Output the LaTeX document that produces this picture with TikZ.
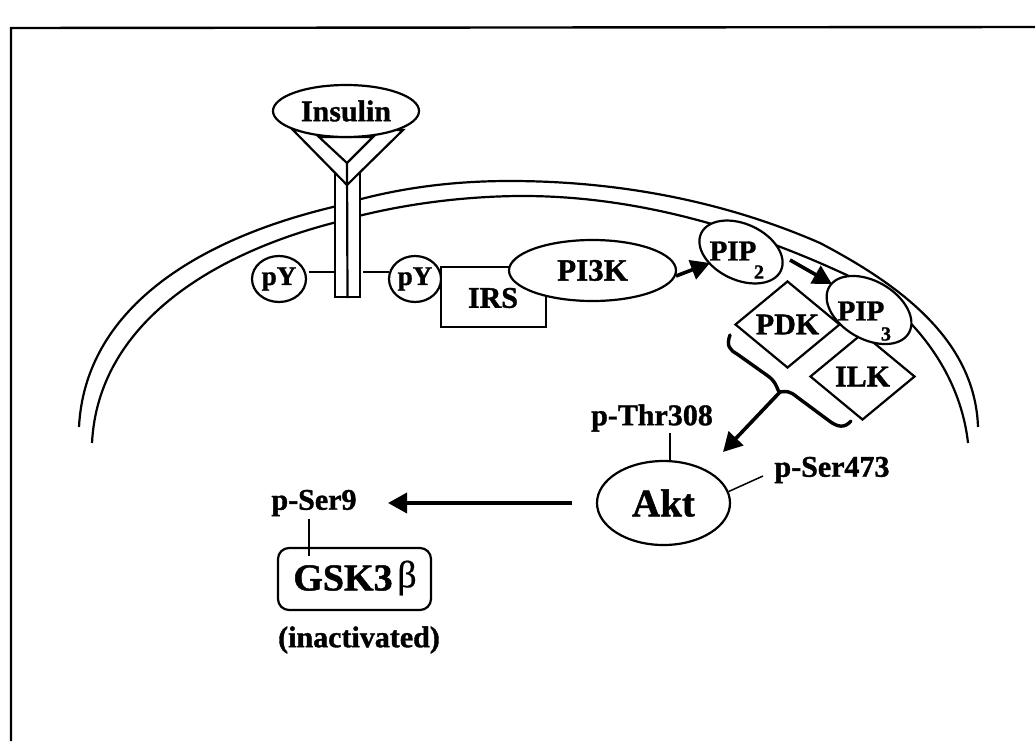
\documentclass[tikz,border=0pt]{standalone}
\usepackage{fontspec}
\setmainfont{Liberation Serif}[BoldFeatures={FakeBold=1.2}]
\newfontfamily\betafont{Liberation Serif}[FakeBold=0.5]
\usetikzlibrary{shapes.geometric,arrows.meta}
\newcommand{\fs}[1]{\fontsize{#1}{#1}\selectfont\bfseries}
\tikzset{
  ln/.style={draw=black,line width=2.2pt},
  oval/.style={ellipse,ln,fill=white,inner sep=0pt},
  dia/.style={diamond,ln,inner sep=0pt,minimum width=105pt,minimum height=87pt,shape aspect=1.2},
  lbl/.style={inner sep=0pt,font=\fs{30}},
  fat/.style={line width=3.6pt,-{Triangle[length=19pt,width=20pt]}},
  thin link/.style={draw=black,line width=1.5pt}
}
\begin{document}
\begin{tikzpicture}[x=1pt,y=-1pt]
\useasboundingbox (0,0) rectangle (1035,741);
% frame
\coordinate (f1) at (11,741); \coordinate (f2) at (11,28); \coordinate (f3) at (1035,27);
\draw[line width=2.4pt] (f1) -- (f2) -- (f3);
% membrane
\draw[ln] (79,427) .. controls (85,310) and (195,240) .. (333,207) .. controls (400,186) and (460,181) .. (510,181) .. controls (600,181) and (710,195) .. (820,243) .. controls (900,285) and (975,340) .. (978,427);
\draw[ln] (92,443) .. controls (98,325) and (210,255) .. (333,223) .. controls (400,203) and (470,196) .. (523,196) .. controls (610,196) and (720,215) .. (853,278) .. controls (910,310) and (960,370) .. (968,443);
% receptor
\node[rectangle,ln,fill=white,minimum width=25pt,minimum height=124pt,inner sep=0pt] (stem) at (347.5,235) {};
\coordinate (rl) at (293,130); \coordinate (rb) at (347,185); \coordinate (rr) at (403,130);
\coordinate (il) at (319,137); \coordinate (ia) at (347,163); \coordinate (ir) at (373,137);
\filldraw[ln,fill=white,line join=miter] (rl) -- (rb) -- (rr) -- cycle;
\draw[ln] (il) -- (ia) -- (ir) -- cycle;
\draw[ln] (ia) -- (stem.south);
\node[oval,minimum width=146pt,minimum height=52pt,font=\fs{30}] (insulin) at (346,111) {Insulin};
% pY
\node[oval,minimum width=54pt,minimum height=46pt,font=\fs{27}] (pyl) at (279,279) {pY};
\node[oval,minimum width=52pt,minimum height=46pt,font=\fs{27}] (pyr) at (415,279) {pY};
\coordinate (l1) at (309,272); \coordinate (l2) at (335,272);
\coordinate (r1) at (363,272); \coordinate (r2) at (389,272);
\draw[ln] (l1) -- (l2);
\draw[ln] (r1) -- (r2);
% IRS, PI3K
\node[rectangle,ln,fill=white,minimum width=105pt,minimum height=60pt,inner sep=0pt] (irs) at (493.5,297) {};
\node[lbl] (irst) at (493,298) {IRS};
\node[oval,minimum width=167pt,minimum height=61pt,font=\fs{31}] (pi3k) at (592.5,270.5) {PI3K};
% PIP2
\node[ellipse,ln,fill=white,minimum width=88pt,minimum height=56pt,rotate=-25,inner sep=0pt] (pip2) at (741,252) {};
\node[inner sep=0pt,font=\fs{29}] (pip2t) at (733,251) {PIP};
\node[inner sep=0pt,font=\fs{20}] (pip2s) at (759,272) {2};
% ILK under PIP3, PDK over it
\node[dia,fill=white,font=\fs{30}] (ilk) at (862.5,376.5) {ILK};
\node[ellipse,ln,fill=white,minimum width=92pt,minimum height=58pt,rotate=-30,inner sep=0pt] (pip3) at (869,310) {};
\node[inner sep=0pt,font=\fs{29}] (pip3t) at (861,311) {PIP};
\node[inner sep=0pt,font=\fs{20}] (pip3s) at (886,334) {3};
\node[dia,font=\fs{30}] (pdk) at (787.5,324.5) {PDK};
% arrows
\coordinate (a1) at (676,276); \coordinate (a2) at (710,263);
\draw[fat] (a1) -- (a2);
\coordinate (b1) at (790,260); \coordinate (b2) at (832,284);
\draw[fat] (b1) -- (b2);
% bracket
\coordinate (j) at (780,392); \coordinate (tip) at (723,452);
\draw[line width=3.4pt,line cap=round] (730,335) .. controls (726,346) and (730,350) .. (737,354) -- (768,376) .. controls (778,383) and (777,392) .. (j) .. controls (786,391) and (790,391) .. (797,397) -- (828,420) .. controls (838,428) and (845,428) .. (851,421);
\draw[fat] (j) -- (tip);
% Akt
\node[oval,minimum width=133pt,minimum height=84pt,font=\fs{39}] (akt) at (663.5,503) {Akt};
\node[lbl] (thr) at (652,418) {p-Thr308};
\node[lbl] (ser) at (832,470) {p-Ser473};
\coordinate (t1) at (670,433);
\draw[thin link] (t1) -- (t1 |- akt.north);
\coordinate (s1) at (763,476);
\draw[thin link] (s1) -- (akt.10);
% GSK
\coordinate (g1) at (572,503); \coordinate (g2) at (388,503);
\draw[fat] (g1) -- (g2);
\node[lbl] (ser9) at (314,503) {p-Ser9};
\node[rectangle,rounded corners=11pt,ln,minimum width=153pt,minimum height=62pt,inner sep=0pt] (gsk) at (354.5,579) {};
\node[inner sep=0pt,font=\fs{38}] (gskt) at (343,578) {GSK3};
\node[inner sep=0pt,font=\betafont\fontsize{38}{38}\selectfont] (beta) at (407,578) {β};
\coordinate (g3) at (309,519); \coordinate (g4) at (309,556);
\draw[thin link] (g3) -- (g4);
\node[lbl] (inact) at (359,640) {(inactivated)};
\end{tikzpicture}
\end{document}
